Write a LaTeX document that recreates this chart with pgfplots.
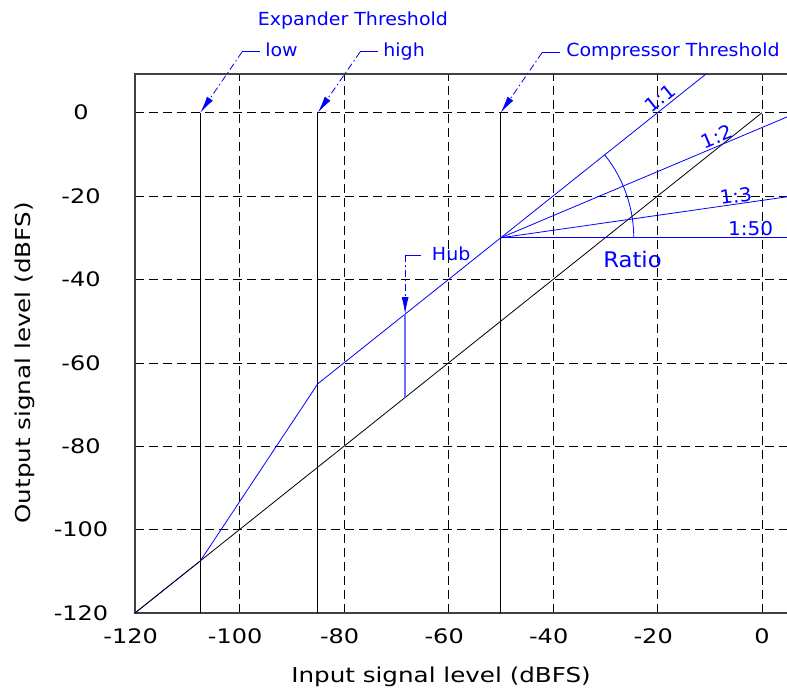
\documentclass[border=0pt]{standalone}
\usepackage{fontspec}
\setmainfont{DejaVu Sans}[FakeStretch=1.2]
\newfontfamily\notefont{DejaVu Sans}[FakeStretch=1.055]
\usepackage{pgfplots}
\pgfplotsset{compat=1.18}
\usetikzlibrary{arrows.meta}

\definecolor{lineblue}{RGB}{0,0,255}
\definecolor{hubblue}{RGB}{110,110,255}
\definecolor{framegray}{RGB}{64,64,64}

\tikzset{
  dimarrow/.style={lineblue, line width=0.8pt, dash pattern=on 7pt off 3pt on 1.5pt off 3pt,
                   -{Latex[length=17pt,width=7pt]}},
  note/.style={lineblue, inner sep=0pt, font=\notefont\fontsize{18}{20}\selectfont},
  ratiolbl/.style={lineblue, inner sep=1pt, font=\notefont\fontsize{19}{21}\selectfont},
}

\begin{document}
\begin{tikzpicture}
\begin{axis}[
  x=5.225pt, y=4.169pt,
  xmin=-120, xmax=5.2, ymin=-120, ymax=9.3,
  axis line style={framegray, line width=1.2pt},
  xtick={-120,-100,...,0}, ytick={-120,-100,...,0},
  xticklabels={\llap{-}120,\llap{-}100,\llap{-}80,\llap{-}60,\llap{-}40,\llap{-}20,0},
  yticklabels={-120,-100,-80,-60,-40,-20,0},
  major tick length=0pt,
  grid=major,
  grid style={black, line width=0.7pt, dash pattern=on 9pt off 5pt},
  tick label style={font=\fontsize{20}{24}\selectfont},
  xticklabel style={anchor=center, yshift=-23pt},
  yticklabel style={anchor=center, xshift=-54pt},
  label style={font=\fontsize{20.5}{24}\selectfont},
  xlabel={Input signal level (dBFS)},
  ylabel={Output signal level (dBFS)},
  xlabel style={at={(axis description cs:0.4678,-0.1187)}, anchor=center},
  ylabel style={at={(axis description cs:-0.1681,0.4638)}, anchor=center},
  clip=false,
]
\coordinate (LL) at (axis cs:-120,-120);

% transfer curve and identity line
\addplot[lineblue, line width=0.8pt] coordinates {(-120,-120) (-107.5,-107.5) (-85,-65) (-50,-30) (-10.7,9.3)};
\addplot[black, line width=0.8pt] coordinates {(-120,-120) (0,0)};

% thresholds
\addplot[black, line width=0.8pt] coordinates {(-107.5,-120) (-107.5,0)};
\addplot[black, line width=0.8pt] coordinates {(-85,-120) (-85,0)};
\addplot[black, line width=0.8pt] coordinates {(-50,-120) (-50,0)};

% ratio lines
\addplot[lineblue, line width=0.8pt] coordinates {(-50,-30) (5.2,-0.8)};
\addplot[lineblue, line width=0.8pt] coordinates {(-50,-30) (5.2,-20.1)};
\addplot[lineblue, line width=0.8pt] coordinates {(-50,-30) (5.2,-30)};

% hub
\addplot[hubblue, line width=1.8pt] coordinates {(-68.3,-68.3) (-68.3,-48.3)};

\draw[lineblue, line width=0.8pt] (axis cs:-50,-30) ++(0:133pt) arc[start angle=0, end angle=38.6, radius=133pt];

% annotation arrows
\draw[lineblue, line width=0.8pt] (axis cs:-96.1,14.6) -- (axis cs:-99.5,14.6);
\draw[dimarrow] (axis cs:-99.5,14.6) -- (axis cs:-107.5,0);
\draw[lineblue, line width=0.8pt] (axis cs:-73.5,14.6) -- (axis cs:-76.9,14.6);
\draw[dimarrow] (axis cs:-76.9,14.6) -- (axis cs:-85,0);
\draw[lineblue, line width=0.8pt] (axis cs:-38.7,14.4) -- (axis cs:-42.1,14.4);
\draw[dimarrow] (axis cs:-42.1,14.4) -- (axis cs:-50,0);
\draw[lineblue, line width=0.8pt] (axis cs:-65.2,-34.2) -- (axis cs:-68.3,-34.2);
\draw[dimarrow] (axis cs:-68.3,-34.2) -- (axis cs:-68.3,-48.3);

\node[note, anchor=base] at (axis cs:-78.3,20.8) {Expander Threshold};
\node[note, anchor=base west] at (axis cs:-95.1,13.6) {low};
\node[note, anchor=base west] at (axis cs:-72.5,13.6) {high};
\node[note, anchor=base west] at (axis cs:-37.5,13.6) {Compressor Threshold};
\node[note, anchor=base west] at (axis cs:-63.2,-35.4) {Hub};
\node[lineblue, inner sep=0pt, anchor=base west, font=\notefont\fontsize{21.5}{24}\selectfont] at (axis cs:-30.4,-37.1) {Ratio};

\node[ratiolbl, rotate=38.6, anchor=south, inner sep=3pt] at (axis cs:-18.3,1.7) {1:1};
\node[ratiolbl, rotate=22.9, anchor=south, inner sep=2.5pt] at (axis cs:-8.0,-7.8) {1:2};
\node[ratiolbl, rotate=8.2, anchor=south] at (axis cs:-4.8,-21.9) {1:3};
\node[ratiolbl, inner sep=0pt, anchor=base west] at (axis cs:-6.5,-29.4) {1:50};
\end{axis}
\pgfresetboundingbox
\path[use as bounding box] (LL) ++(-135pt,-77pt) rectangle ++(787pt,690pt);
\end{tikzpicture}
\end{document}
